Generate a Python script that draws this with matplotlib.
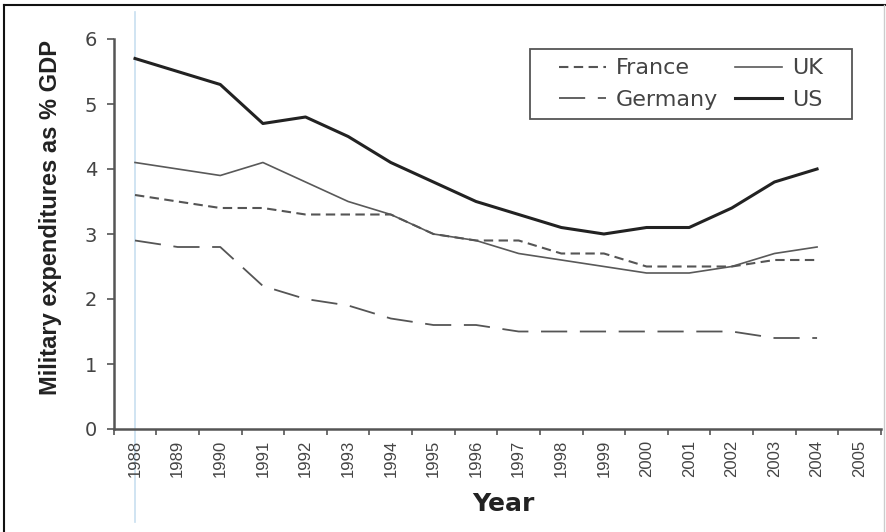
import matplotlib
matplotlib.use("Agg")
import matplotlib.pyplot as plt
from matplotlib.lines import Line2D
from matplotlib.patches import Rectangle
import numpy as np

years = [str(y) for y in range(1988, 2006)]
us = [5.7, 5.5, 5.3, 4.7, 4.8, 4.5, 4.1, 3.8, 3.5, 3.3, 3.1, 3.0, 3.1, 3.1, 3.4, 3.8, 4.0]
uk = [4.1, 4.0, 3.9, 4.1, 3.8, 3.5, 3.3, 3.0, 2.9, 2.7, 2.6, 2.5, 2.4, 2.4, 2.5, 2.7, 2.8]
france = [3.6, 3.5, 3.4, 3.4, 3.3, 3.3, 3.3, 3.0, 2.9, 2.9, 2.7, 2.7, 2.5, 2.5, 2.5, 2.6, 2.6]
germany = [2.9, 2.8, 2.8, 2.2, 2.0, 1.9, 1.7, 1.6, 1.6, 1.5, 1.5, 1.5, 1.5, 1.5, 1.5, 1.4, 1.4]

plt.rcParams['font.family'] = ['DejaVu Sans']

W, H = 886, 532
fig = plt.figure(figsize=(W / 100, H / 100), dpi=100)
ax = fig.add_axes([113.7 / W, 1 - 429 / H, (881 - 113.7) / W, (429 - 39) / H])

FR_D = (4.5, 2.6)
GE_D = (14.5, 7)

x = np.arange(len(us))
ax.plot(x, us, color='#222222', lw=2.2)
ax.plot(x, uk, color='#595959', lw=1.2)
ax.plot(x, france, color='#555555', lw=1.5, dashes=FR_D)
ax.plot(x, germany, color='#555555', lw=1.3, dashes=GE_D)

ax.set_xlim(-0.5, len(years) - 0.5)
ax.set_ylim(0, 6)
ax.set_xticks(np.arange(len(years)))
ax.set_xticklabels(years, rotation=90, fontsize=12, color='#444444',
                   family=['Liberation Sans', 'DejaVu Sans'])
ax.set_xticks(np.arange(-0.5, len(years)), minor=True)
ax.tick_params(axis='x', which='major', length=0, pad=8)
ax.tick_params(axis='x', which='minor', length=4, width=1.2, color='#555555', direction='out')
ax.set_yticks(range(0, 7))
ax.tick_params(axis='y', labelsize=14, labelcolor='#444444', length=5, width=1.2,
               color='#555555', pad=7)

for s in ['top', 'right']:
    ax.spines[s].set_visible(False)
for s in ['left', 'bottom']:
    ax.spines[s].set_color('#555555')
    ax.spines[s].set_linewidth(1.8)

ax.set_ylabel('Military expenditures as % GDP', fontsize=17, fontweight='bold',
              color='#222222', family=['Liberation Sans', 'DejaVu Sans'])
ax.yaxis.set_label_coords((62 - 113.7) / 767.3, 0.542)
ax.set_xlabel('Year', fontsize=18, fontweight='bold', color='#222222')
ax.xaxis.set_label_coords((503 - 113.7) / 767.3, (429 - 492) / 390)

# light blue guide line at 1988
ax.axvline(0, ymin=-0.238, ymax=1.069, color='#c8dff0', lw=1.2, clip_on=False, zorder=0)

handles = [
    Line2D([], [], color='#555555', lw=1.5, dashes=FR_D),
    Line2D([], [], color='#555555', lw=1.3, dashes=GE_D),
    Line2D([], [], color='#595959', lw=1.2),
    Line2D([], [], color='#222222', lw=2.2),
]
labels = ['France', 'Germany', 'UK', 'US']
bx0, bx1, by0, by1 = 530, 852, 49, 119
leg = ax.legend(handles, labels, ncol=2, loc='center',
                bbox_to_anchor=(((bx0 + bx1) / 2 - 113.7) / 767.3, (429 - (by0 + by1) / 2) / 390),
                frameon=False, fontsize=16, handlelength=2.1,
                columnspacing=0.75, handletextpad=0.45, labelspacing=0.5,
                borderpad=0, borderaxespad=0)
for t in leg.get_texts():
    t.set_color('#444444')
fig.add_artist(Rectangle((bx0 / W, 1 - by1 / H), (bx1 - bx0) / W, (by1 - by0) / H,
                         transform=fig.transFigure, fill=False, edgecolor='#555555', lw=1.3))

# figure border
fig.add_artist(Line2D([4 / W, 4 / W], [0, 1 - 5 / H], color='#111111', lw=1.5))
fig.add_artist(Line2D([4 / W, 1], [1 - 5 / H, 1 - 5 / H], color='#111111', lw=1.5))
fig.add_artist(Line2D([884 / W, 884 / W], [0, 1 - 5 / H], color='#cccccc', lw=1.0))

fig.savefig('out.png', dpi=100)
